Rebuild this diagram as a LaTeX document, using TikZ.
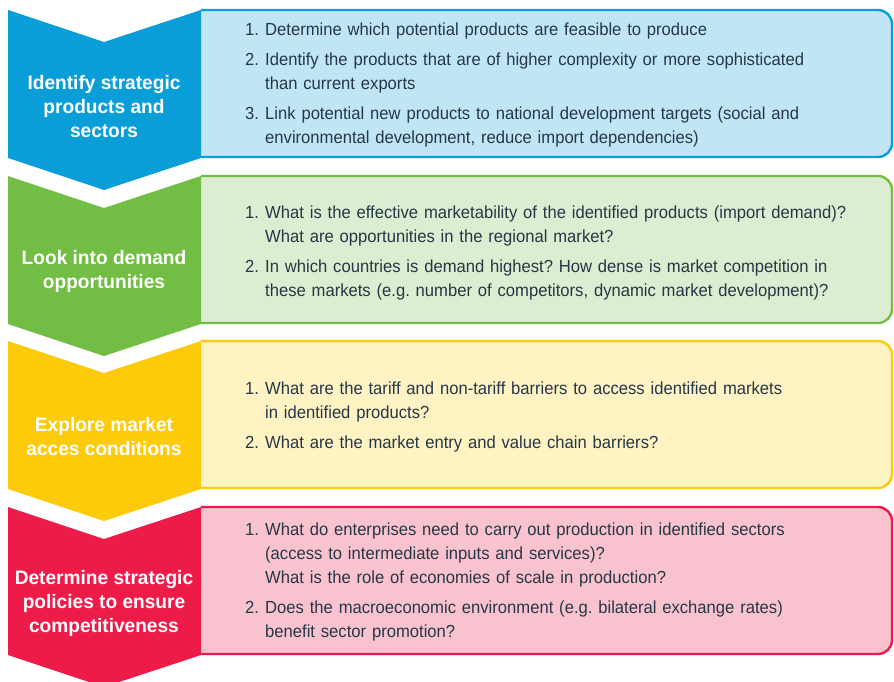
\documentclass[tikz,border=0pt]{standalone}
\usepackage{fontspec}
\setmainfont{Liberation Sans}[FakeStretch=0.95, BoldFeatures={FakeStretch=0.98}]
\usepackage{xcolor}
\usetikzlibrary{positioning}

\definecolor{idblue}{HTML}{0A9ED9}
\definecolor{idbluel}{HTML}{C0E6F6}
\definecolor{lkgreen}{HTML}{72BE44}
\definecolor{lkgreenl}{HTML}{DDEDD1}
\definecolor{exyellow}{HTML}{FECB0A}
\definecolor{exyellowl}{HTML}{FFF3C3}
\definecolor{dtred}{HTML}{EE1A48}
\definecolor{dtredl}{HTML}{F8C3CF}
\definecolor{qtext}{HTML}{263746}

\newcommand\qitem[2]{\par\hangindent=20pt\hangafter=1\noindent\makebox[20pt][l]{#1}#2\par}

\begin{document}
\begin{tikzpicture}[x=1pt,y=-1pt,
            stage/.style={text=white, align=center, inner sep=0pt,
            font=\bfseries\fontsize{19.5}{24}\selectfont},
            qlist/.style={anchor=west, text width=640pt, align=left, inner sep=0pt,
            text=qtext, font=\fontsize{17.5}{24}\selectfont\frenchspacing}]

            \useasboundingbox (0,0) rectangle (894,682);
            \clip (0,0) rectangle (894,682);

            % chevrons and boxes
            \foreach \t/\dk/\lt in {10/idblue/idbluel, 176/lkgreen/lkgreenl,
                    341/exyellow/exyellowl, 507/dtred/dtredl}{
                \filldraw[draw=\dk, fill=\lt, line width=2.4pt, rounded corners=14pt]
                    (201,\t) -- (892,\t) -- (892,\t+147) -- (201,\t+147);
                \fill[\dk] (8,\t) -- (104,\t+32) -- (201,\t) -- (201,\t+148)
                    -- (104,\t+180) -- (8,\t+148) -- cycle;
            }

            \node[stage] (identify) at (104,107) {Identify strategic\\products and\\sectors};
            \node[stage] (demand) at (104,271) {Look into demand\\opportunities};
            \node[stage] (access) at (104,437) {Explore market\\acces conditions};
            \node[stage] (policies) at (104,603) {Determine strategic\\policies to ensure\\competitiveness};

            \node[qlist] (q1) at (245,79) {%
                \qitem{1.}{Determine which potential products are feasible to produce}
                \vspace{6pt}
                \qitem{2.}{Identify the products that are of higher complexity or more sophisticated\newline than current exports}
                \vspace{6pt}
                \qitem{3.}{Link potential new products to national development targets (social and\newline environmental development, reduce import dependencies)}};
            \node[qlist] (q2) at (245,247) {%
                \qitem{1.}{What is the effective marketability of the identified products (import demand)?\newline What are opportunities in the regional market?}
                \vspace{6pt}
                \qitem{2.}{In which countries is demand highest? How dense is market competition in\newline these markets (e.g. number of competitors, dynamic market development)?}};
            \node[qlist] (q3) at (245,411) {%
                \qitem{1.}{What are the tariff and non-tariff barriers to access identified markets\newline in identified products?}
                \vspace{6pt}
                \qitem{2.}{What are the market entry and value chain barriers?}};
            \node[qlist] (q4) at (245,576) {%
                \qitem{1.}{What do enterprises need to carry out production in identified sectors\newline (access to intermediate inputs and services)?\newline What is the role of economies of scale in production?}
                \vspace{6pt}
                \qitem{2.}{Does the macroeconomic environment (e.g. bilateral exchange rates)\newline benefit sector promotion?}};
        \end{tikzpicture}
\end{document}
